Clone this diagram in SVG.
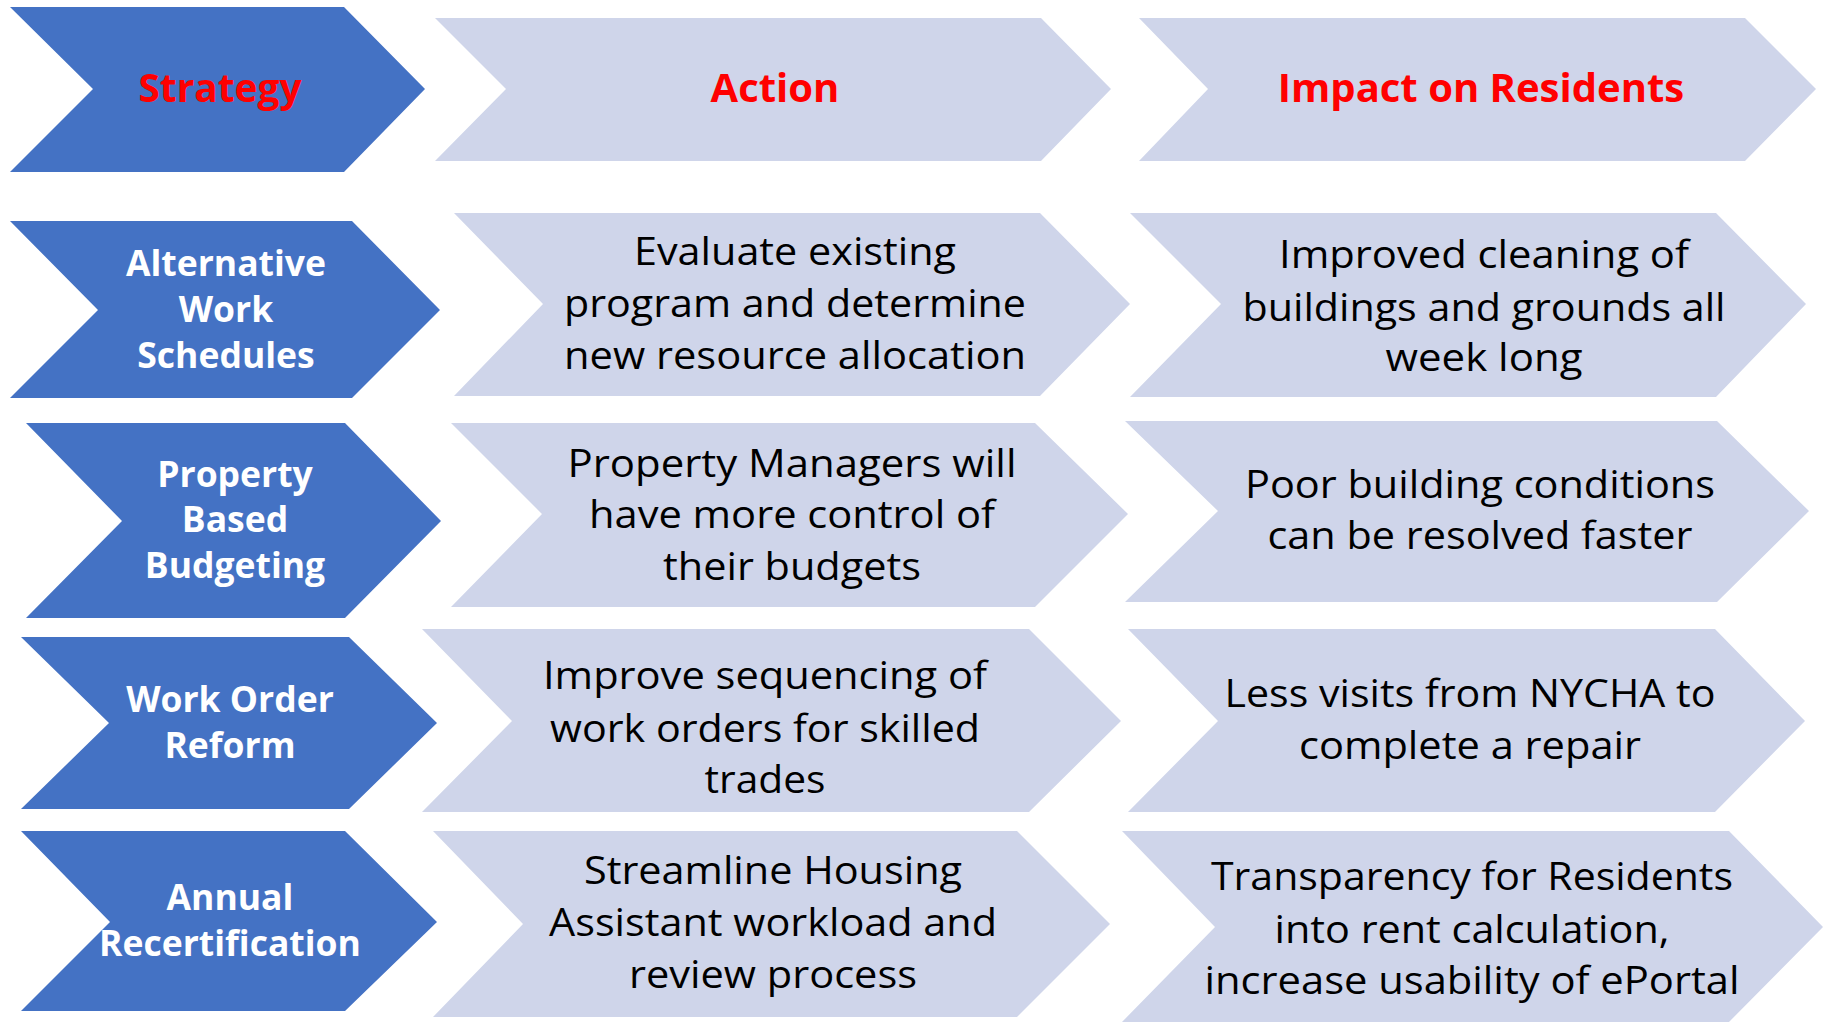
<svg xmlns="http://www.w3.org/2000/svg" width="1823" height="1022" viewBox="0 0 1823 1022">
<style>
.dark{fill:#4472C4}
.light{fill:#CFD5EA}
text{font-family:"Open Sans","Liberation Sans",sans-serif;text-anchor:middle}
.hd{fill:#FF0000;font-weight:bold;font-size:40px}
.st{fill:#FFFFFF;font-weight:bold;font-size:35.5px}
.bd{fill:#000000;font-size:38.5px}
</style>
<rect width="1823" height="1022" fill="#FFFFFF"/>
<g id="connectors"></g>
<g id="hdr-strategy"><polygon class="dark" points="10,7 344,7 425,89 344,172 10,172 93,89"/><text class="hd" x="220" y="102" textLength="163" lengthAdjust="spacingAndGlyphs">Strategy</text></g>
<g id="hdr-action"><polygon class="light" points="435,18 1041,18 1111,89 1041,161 435,161 506,89"/><text class="hd" x="775" y="102">Action</text></g>
<g id="hdr-impact"><polygon class="light" points="1139,18 1745,18 1816,89 1745,161 1139,161 1208,89"/><text class="hd" x="1481" y="102">Impact on Residents</text></g>

<g id="s1"><polygon class="dark" points="10,221 352,221 440,310 352,398 10,398 98,310"/>
<text class="st" x="226" y="276">Alternative</text><text class="st" x="226" y="322">Work</text><text class="st" x="226" y="368">Schedules</text></g>
<g id="a1"><polygon class="light" points="454,213 1040,213 1130,304 1040,396 454,396 543,304"/>
<text class="bd" x="795" y="265" textLength="322" lengthAdjust="spacingAndGlyphs">Evaluate existing</text>
<text class="bd" x="795" y="317" textLength="462" lengthAdjust="spacingAndGlyphs">program and determine</text>
<text class="bd" x="795" y="369" textLength="462" lengthAdjust="spacingAndGlyphs">new resource allocation</text></g>
<g id="i1"><polygon class="light" points="1130,213 1716,213 1806,304 1716,397 1130,397 1221,304"/>
<text class="bd" x="1484" y="268" textLength="410" lengthAdjust="spacingAndGlyphs">Improved cleaning of</text>
<text class="bd" x="1484" y="321" textLength="483" lengthAdjust="spacingAndGlyphs">buildings and grounds all</text>
<text class="bd" x="1484" y="371" textLength="197" lengthAdjust="spacingAndGlyphs">week long</text></g>

<g id="s2"><polygon class="dark" points="26,423 345,423 441,521 345,618 26,618 122,521"/>
<text class="st" x="235" y="487">Property</text><text class="st" x="235" y="532">Based</text><text class="st" x="235" y="578">Budgeting</text></g>
<g id="a2"><polygon class="light" points="451,423 1035,423 1128,514 1035,607 451,607 542,514"/>
<text class="bd" x="792" y="477" textLength="449" lengthAdjust="spacingAndGlyphs">Property Managers will</text>
<text class="bd" x="792" y="528" textLength="406" lengthAdjust="spacingAndGlyphs">have more control of</text>
<text class="bd" x="792" y="580" textLength="258" lengthAdjust="spacingAndGlyphs">their budgets</text></g>
<g id="i2"><polygon class="light" points="1125,421 1717,421 1809,511 1717,602 1125,602 1218,511"/>
<text class="bd" x="1480" y="498" textLength="470" lengthAdjust="spacingAndGlyphs">Poor building conditions</text>
<text class="bd" x="1480" y="549" textLength="425" lengthAdjust="spacingAndGlyphs">can be resolved faster</text></g>

<g id="s3"><polygon class="dark" points="21,637 349,637 437,723 349,809 21,809 109,723"/>
<text class="st" x="230" y="712">Work Order</text><text class="st" x="230" y="758">Reform</text></g>
<g id="a3"><polygon class="light" points="422,629 1029,629 1121,721 1029,812 422,812 512,721"/>
<text class="bd" x="765" y="689" textLength="444" lengthAdjust="spacingAndGlyphs">Improve sequencing of</text>
<text class="bd" x="765" y="742" textLength="430" lengthAdjust="spacingAndGlyphs">work orders for skilled</text>
<text class="bd" x="765" y="793" textLength="121" lengthAdjust="spacingAndGlyphs">trades</text></g>
<g id="i3"><polygon class="light" points="1128,629 1715,629 1805,721 1715,812 1128,812 1218,721"/>
<text class="bd" x="1470" y="707" textLength="491" lengthAdjust="spacingAndGlyphs">Less visits from NYCHA to</text>
<text class="bd" x="1470" y="759" textLength="342" lengthAdjust="spacingAndGlyphs">complete a repair</text></g>

<g id="s4"><polygon class="dark" points="21,831 345,831 437,922 345,1011 21,1011 110,922"/>
<text class="st" x="230" y="910">Annual</text><text class="st" x="230" y="956">Recertification</text></g>
<g id="a4"><polygon class="light" points="433,831 1017,831 1110,924 1017,1017 433,1017 523,924"/>
<text class="bd" x="773" y="884" textLength="378" lengthAdjust="spacingAndGlyphs">Streamline Housing</text>
<text class="bd" x="773" y="936" textLength="448" lengthAdjust="spacingAndGlyphs">Assistant workload and</text>
<text class="bd" x="773" y="988" textLength="288" lengthAdjust="spacingAndGlyphs">review process</text></g>
<g id="i4"><polygon class="light" points="1122,831 1729,831 1823,927 1729,1022 1122,1022 1215,927"/>
<text class="bd" x="1472" y="890" textLength="522" lengthAdjust="spacingAndGlyphs">Transparency for Residents</text>
<text class="bd" x="1472" y="943" textLength="395" lengthAdjust="spacingAndGlyphs">into rent calculation,</text>
<text class="bd" x="1472" y="994" textLength="535" lengthAdjust="spacingAndGlyphs">increase usability of ePortal</text></g>
</svg>
